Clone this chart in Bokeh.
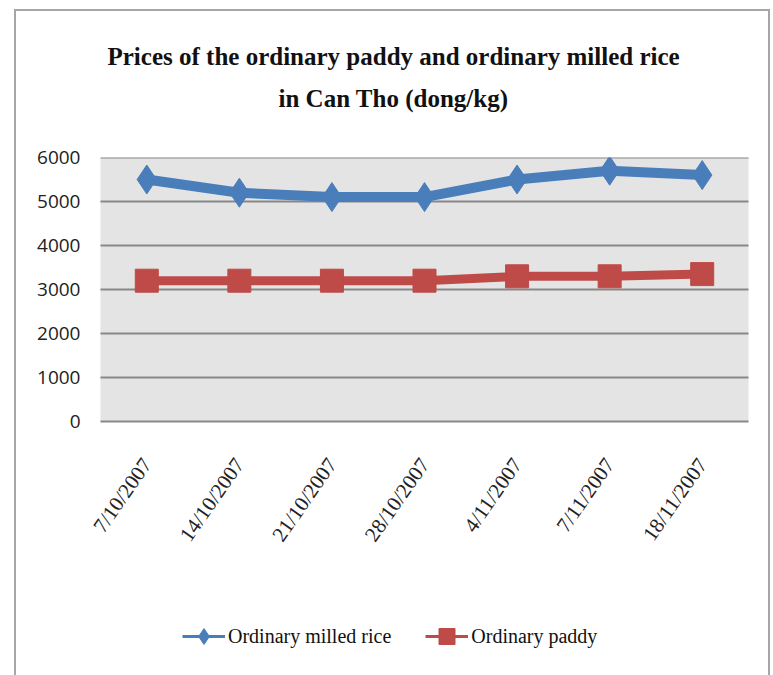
import math
from bokeh.plotting import figure
from bokeh.models import (Range1d, Title, Legend, LegendItem, FixedTicker,
                          BasicTickFormatter, BoxAnnotation)
from bokeh.embed import file_html
from bokeh.resources import INLINE

# ---- data ----
dates = ["7/10/2007", "14/10/2007", "21/10/2007", "28/10/2007",
         "4/11/2007", "7/11/2007", "18/11/2007"]
milled_rice = [5500, 5200, 5100, 5100, 5500, 5700, 5600]
paddy = [3200, 3200, 3200, 3200, 3300, 3300, 3350]
y_ticks = [0, 1000, 2000, 3000, 4000, 5000, 6000]
y_min, y_max = 0, 6000
title_line1 = "Prices of the ordinary paddy and ordinary milled rice"
title_line2 = "in Can Tho (dong/kg)"
series_names = ["Ordinary milled rice", "Ordinary paddy"]

BLUE = "#4a7ebb"
RED = "#be4b48"
GRID = "#888888"
SERIF = "Liberation Serif"

# category positions (1..n) and the plotting band edges
xs = list(range(1, len(dates) + 1))
x_lo, x_hi = 0.5, len(dates) + 0.5

# layout: plotting band 648x264 px; the frame is 14px wider on each side (room for
# the rotated tick labels) and continues 244px below the band (labels + legend)
BAND_W, BAND_H, SIDE_PX, EXTRA_PX = 648, 264, 14, 244
x_pad = (x_hi - x_lo) * SIDE_PX / BAND_W
y_start = y_min - (y_max - y_min) * EXTRA_PX / BAND_H

p = figure(x_range=Range1d(x_lo - x_pad, x_hi + x_pad), y_range=Range1d(y_start, y_max),
           frame_width=BAND_W + 2 * SIDE_PX, frame_height=BAND_H + EXTRA_PX,
           output_backend="svg", toolbar_location=None, title_location=None,
           min_border_left=70, min_border_right=6, min_border_top=146, min_border_bottom=20,
           margin=(11, 0, 0, 16),
           styles={"outline": "2px solid #a6a6a6"})

p.background_fill_color = "white"
p.border_fill_color = "white"
p.outline_line_color = None

# grey plot area and horizontal gridlines, limited to the plotting band
p.add_layout(BoxAnnotation(left=x_lo, right=x_hi, bottom=y_min, top=y_max,
                           fill_color="#e4e4e4", fill_alpha=1, line_color=None, level="image"))
p.segment(x0=[x_lo] * len(y_ticks), y0=y_ticks, x1=[x_hi] * len(y_ticks), y1=y_ticks,
          line_color=GRID, line_width=2)

# series
l1 = p.line(xs, milled_rice, line_width=10, color=BLUE)
m1 = p.scatter(xs, milled_rice, marker="diamond", size=29, color=BLUE)
l2 = p.line(xs, paddy, line_width=9, color=RED)
m2 = p.scatter(xs, paddy, marker="square", size=23, color=RED)

# legend-only proxies (thin lines; NaN values are never drawn in the plot)
nan = [float("nan")] * len(xs)
ll1 = p.line(xs, nan, line_width=3, color=BLUE)
lm1 = p.scatter(xs, nan, marker="diamond", size=14, color=BLUE)
ll2 = p.line(xs, nan, line_width=3, color=RED)
lm2 = p.scatter(xs, nan, marker="square", size=12, color=RED)

legend = Legend(items=[LegendItem(label=series_names[0], renderers=[ll1, lm1]),
                       LegendItem(label=series_names[1], renderers=[ll2, lm2])],
                orientation="horizontal", location=(96, 9),
                glyph_width=43, glyph_height=40, label_standoff=3, spacing=34,
                label_text_font=SERIF, label_text_font_size="20px", label_text_color="#111111",
                border_line_color=None, background_fill_alpha=0, margin=0, padding=0)
p.add_layout(legend, "center")

# titles (first added sits closest to the frame)
p.add_layout(Title(text=" ", text_font_size="1px", standoff=43), "above")
p.add_layout(Title(text=title_line2, align="left", text_font=SERIF, text_font_size="25px",
                   text_font_style="bold", text_color="#111111", offset=192, standoff=0), "above")
p.add_layout(Title(text=title_line1, align="left", text_font=SERIF, text_font_size="25px",
                   text_font_style="bold", text_color="#111111", offset=21, standoff=26), "above")

# axes
p.yaxis.ticker = FixedTicker(ticks=y_ticks)
p.yaxis.formatter = BasicTickFormatter(use_scientific=False)
p.yaxis.axis_line_color = None
p.yaxis.major_tick_line_color = None
p.yaxis.minor_tick_line_color = None
p.yaxis.major_label_standoff = 0
p.yaxis.major_label_text_font = "Open Sans"
p.yaxis.major_label_text_font_size = "19px"
p.yaxis.major_label_text_color = "#222222"

p.xaxis.ticker = FixedTicker(ticks=xs)
p.xaxis.major_label_overrides = dict(zip(xs, dates))
p.xaxis.fixed_location = y_min
p.xaxis.axis_line_color = None
p.xaxis.major_tick_line_color = None
p.xaxis.minor_tick_line_color = None
p.xaxis.major_label_orientation = math.radians(55)
p.xaxis.major_label_standoff = 33
p.xaxis.major_label_text_font = SERIF
p.xaxis.major_label_text_font_size = "21px"
p.xaxis.major_label_text_color = "#222222"

p.xgrid.visible = False
p.ygrid.visible = False

open("out.html", "w").write(file_html(p, INLINE))
